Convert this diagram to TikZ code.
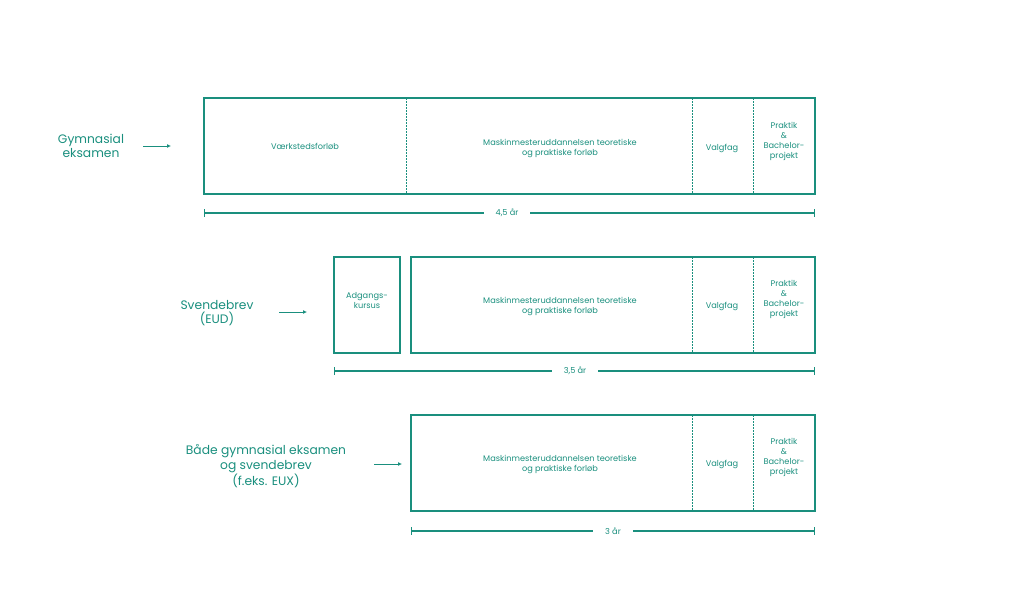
\documentclass[tikz,border=0pt]{standalone}
\usepackage{fontspec}
\setmainfont{Poppins}
\usetikzlibrary{arrows.meta}
\definecolor{tl}{HTML}{1A8F7E}
\begin{document}
\begin{tikzpicture}[x=1pt,y=-1pt,
 box/.style={draw=tl,line width=1.5pt},
 dv/.style={draw=tl,dash pattern=on 1.5pt off 1.5pt,line width=0.7pt},
 sm/.style={text=tl,font=\fontsize{8.2}{10}\selectfont,align=center},
 lb/.style={text=tl,font=\fontsize{12.3}{14.5}\selectfont,align=center},
 dim/.style={draw=tl,line width=1.1pt,|-|},
 dl/.style={sm,fill=white,inner xsep=12pt},
 ar/.style={draw=tl,line width=0.8pt,-{Latex[length=4pt,width=4pt]}}]
\useasboundingbox (0,0) rectangle (1024,594);
% row 1
\draw[box] (204,98) rectangle (815,194);
\draw[dv] (406,98)--(406,194); \draw[dv] (692,98)--(692,194); \draw[dv] (753,98)--(753,194);
\node[sm] (a1) at (305,146) {Værkstedsforløb};
\node[sm] (a2) at (560,148) {Maskinmesteruddannelsen teoretiske\\og praktiske forløb};
\node[sm] (a3) at (722,148) {Valgfag};
\node[sm] (a4) at (784,141) {Praktik\\\&\\Bachelor-\\projekt};
\coordinate (d1a) at (204,213); \coordinate (d1b) at (815,213);
\draw[dim] (d1a)--(d1b); \node[dl] (t1) at (507,213) {4,5 år};
\node[lb] (l1) at (91,146) {Gymnasial\\eksamen};
\coordinate (s1) at (143,146); \coordinate (e1) at (171,146);
\draw[ar] (s1)--(e1);
% row 2
\draw[box] (334,257) rectangle (400,353);
\node[sm] (b0) at (367,300) {Adgangs-\\kursus};
\draw[box] (411,257) rectangle (815,353);
\draw[dv] (692,257)--(692,353); \draw[dv] (753,257)--(753,353);
\node[sm] (b2) at (560,306) {Maskinmesteruddannelsen teoretiske\\og praktiske forløb};
\node[sm] (b3) at (722,306) {Valgfag};
\node[sm] (b4) at (784,299) {Praktik\\\&\\Bachelor-\\projekt};
\coordinate (d2a) at (334,371); \coordinate (d2b) at (815,371);
\draw[dim] (d2a)--(d2b); \node[dl] (t2) at (575,371) {3,5 år};
\node[lb] (l2) at (217,313) {Svendebrev\\(EUD)};
\coordinate (s2) at (279,312); \coordinate (e2) at (307,312);
\draw[ar] (s2)--(e2);
% row 3
\draw[box] (411,415) rectangle (815,511);
\draw[dv] (692,415)--(692,511); \draw[dv] (753,415)--(753,511);
\node[sm] (c2) at (560,464) {Maskinmesteruddannelsen teoretiske\\og praktiske forløb};
\node[sm] (c3) at (722,464) {Valgfag};
\node[sm] (c4) at (784,457) {Praktik\\\&\\Bachelor-\\projekt};
\coordinate (d3a) at (411,531); \coordinate (d3b) at (815,531);
\draw[dim] (d3a)--(d3b); \node[dl] (t3) at (613,531) {3 år};
\node[lb] (l3) at (266,466) {Både gymnasial eksamen\\og svendebrev\\(f.eks. EUX)};
\coordinate (s3) at (374,464); \coordinate (e3) at (402,464);
\draw[ar] (s3)--(e3);
\end{tikzpicture}
\end{document}
